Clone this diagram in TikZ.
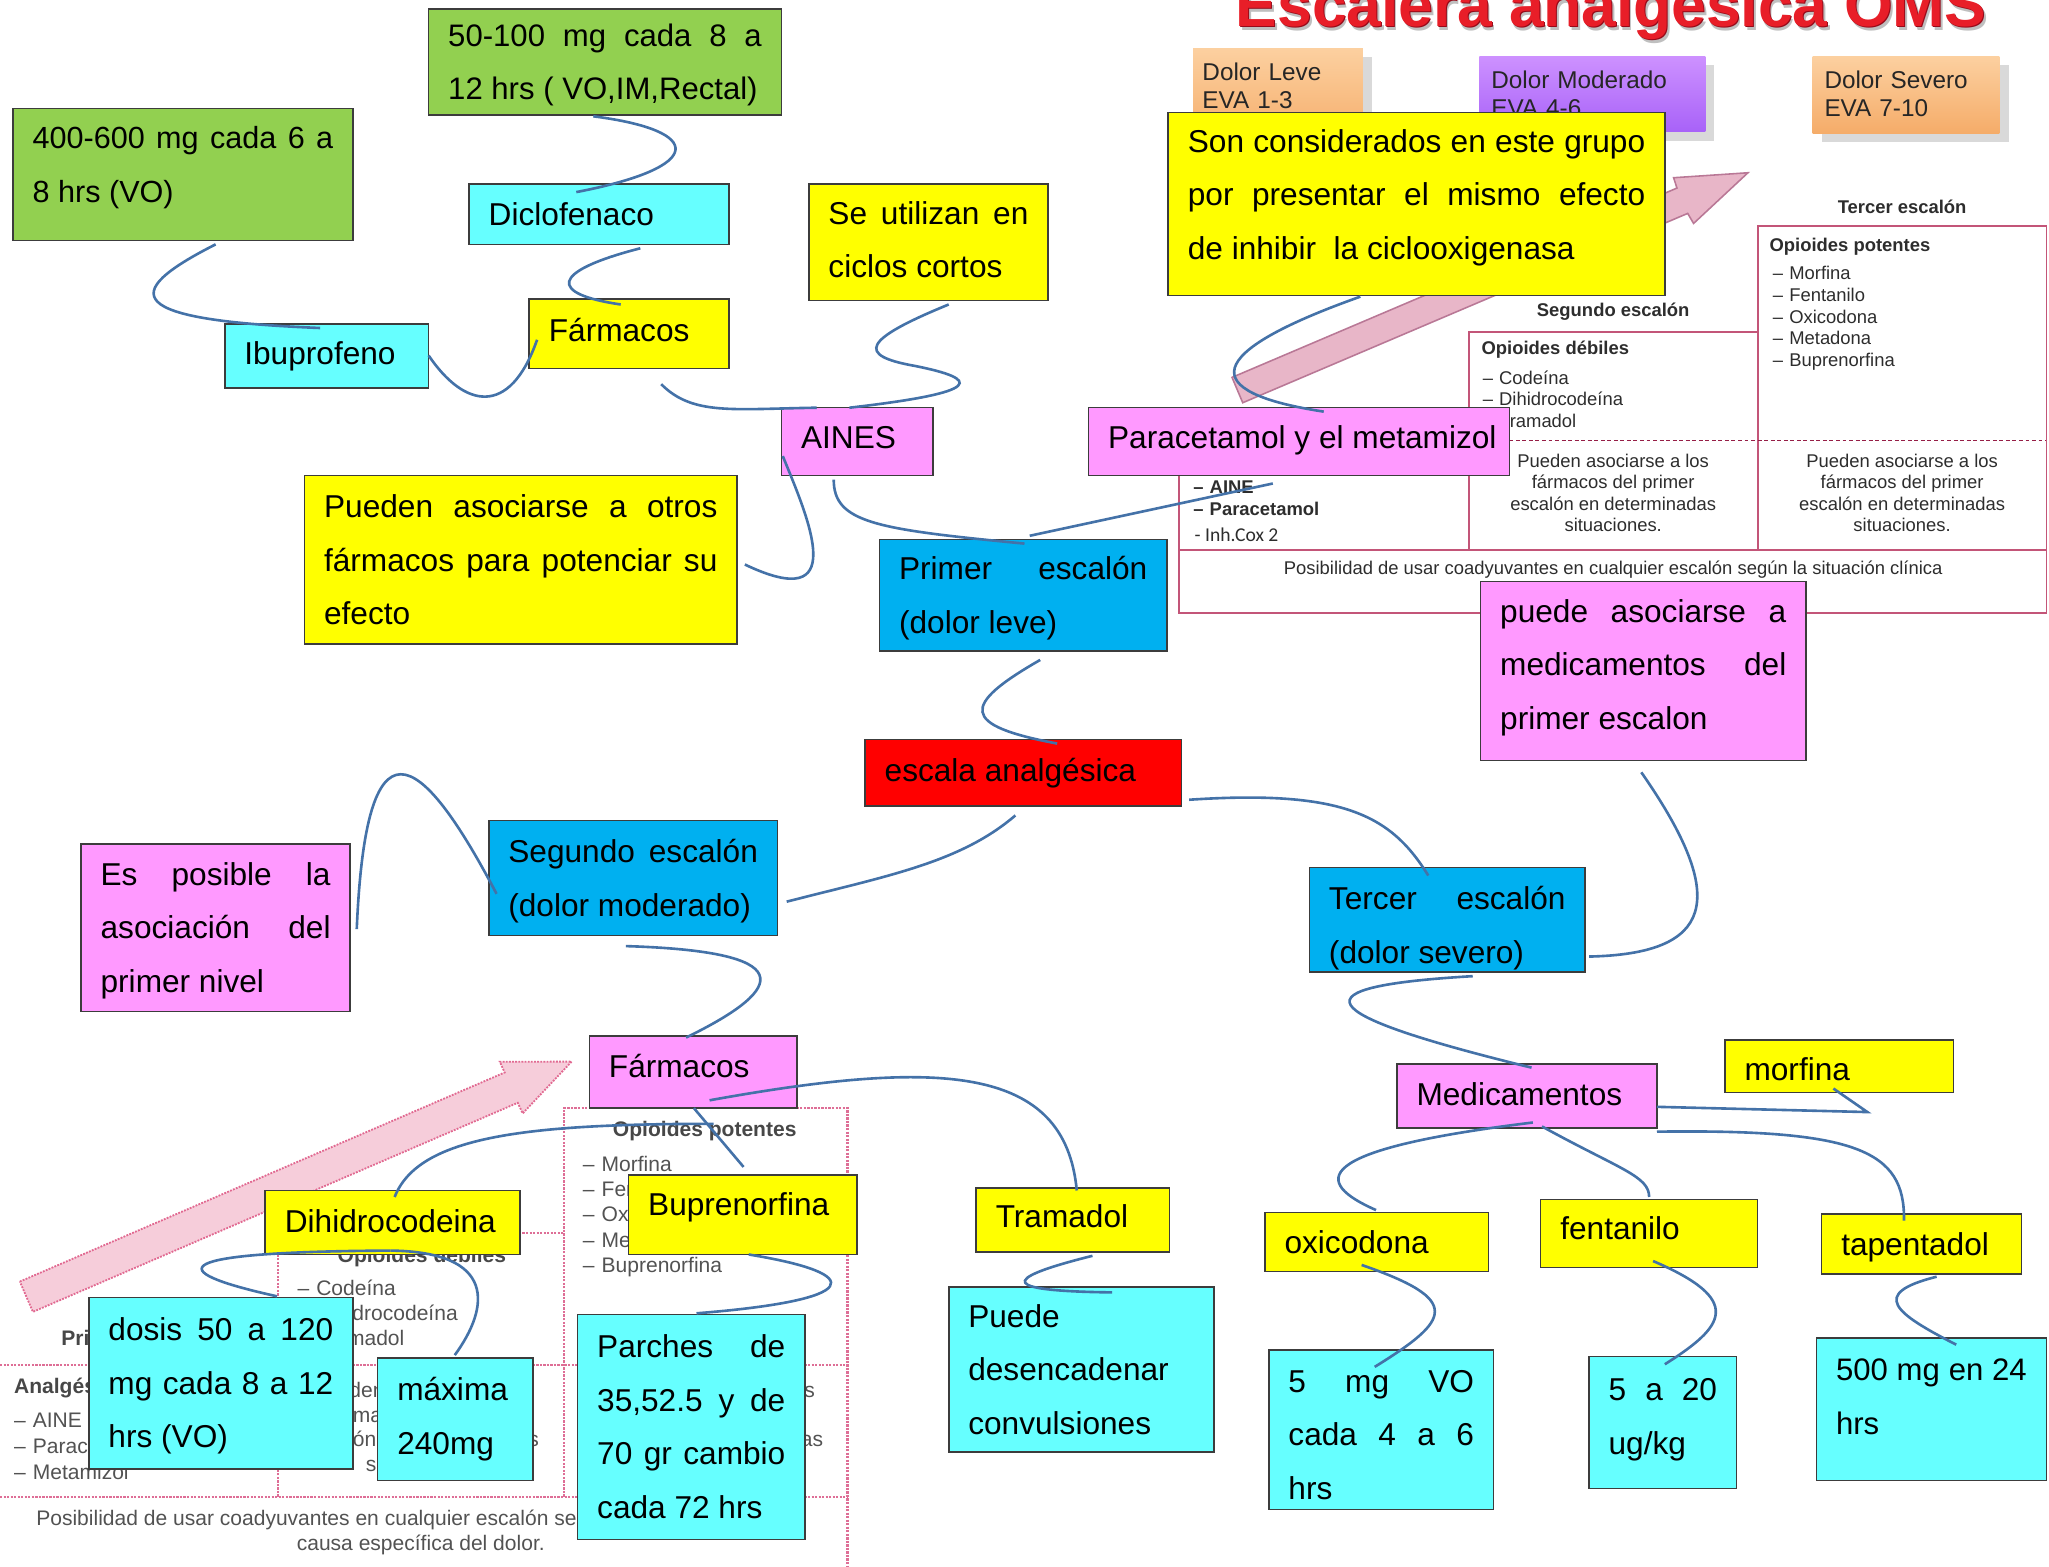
\documentclass[tikz,border=0pt]{standalone}
\usepackage{fontspec}
\setmainfont{Liberation Sans}
\newfontfamily\carlito{Carlito}
\usetikzlibrary{shadows}
\hyphenpenalty=10000 \exhyphenpenalty=10000 \tolerance=10000 \hbadness=10000 \hfuzz=30pt
\definecolor{cgreen}{RGB}{146,208,80}
\definecolor{ccyan}{RGB}{102,255,255}
\definecolor{cyel}{RGB}{255,255,0}
\definecolor{cpink}{RGB}{255,153,255}
\definecolor{cblue}{RGB}{0,176,240}
\definecolor{cred}{RGB}{255,0,0}
\definecolor{cbord}{RGB}{60,60,60}
\definecolor{conncol}{RGB}{68,114,168}
\definecolor{tabline}{RGB}{195,85,120}
\definecolor{tabdash}{RGB}{150,30,70}
\definecolor{tabtxt}{RGB}{45,45,45}
\definecolor{btabline}{RGB}{222,110,150}
\definecolor{arrfill}{RGB}{232,182,200}
\definecolor{arrdraw}{RGB}{185,120,150}
\definecolor{barrfill}{RGB}{246,205,218}
\definecolor{barrdraw}{RGB}{225,105,145}
\definecolor{titred}{RGB}{232,30,40}
\definecolor{titdark}{RGB}{150,10,25}
\definecolor{orA}{RGB}{252,208,160}
\definecolor{orB}{RGB}{245,172,105}
\definecolor{puA}{RGB}{205,145,255}
\definecolor{puB}{RGB}{168,98,248}
\newcommand\bxfont{\fontsize{24.2}{41}\selectfont}
\newcommand\mybox[8][0]{%
  \pgfmathsetmacro\bxw{#5-#3}%
  \pgfmathsetmacro\bxt{#5-#3-30}%
  \pgfmathsetmacro\bxh{#6-#4}%
  \pgfmathsetmacro\bxa{22+max(0,-2*(#1))}%
  \pgfmathsetmacro\bxb{5+max(0,2*(#1))}%
  \node[bx,#2,minimum width=\bxw pt,text width=\bxt pt,minimum height=\bxh pt] (#7) at (#3,#4)
    {\rule{0pt}{\bxa pt}#8\rule[-\bxb pt]{0pt}{\bxb pt}};%
}
\begin{document}
\begin{tikzpicture}[x=1pt,y=-1pt,
  bx/.style={rectangle,draw=cbord,line width=1.2pt,anchor=north west,font=\bxfont,
    align=justify,inner xsep=15pt,inner ysep=0pt,outer sep=0pt},
  cn/.style={draw=conncol,line width=2pt},
  tabhead/.style={inner sep=0pt,font=\fontsize{14.1}{16.6}\selectfont\bfseries,text=tabtxt},
  tabtext/.style={inner sep=0pt,font=\fontsize{14.1}{16.6}\selectfont,text=tabtxt},
  bhead/.style={inner sep=0pt,font=\fontsize{16.1}{19.4}\selectfont\bfseries,text=black!72},
  btext/.style={inner sep=0pt,font=\fontsize{16.1}{19.4}\selectfont,text=black!68},
  dolortxt/.style={anchor=base west,inner sep=0pt,align=left,text width=170pt,
    font=\fontsize{18.6}{21.5}\selectfont,text=black!85},
  titlefont/.style={anchor=base west,inner sep=0pt,font=\fontsize{47.6}{50}\selectfont\bfseries}]
\useasboundingbox (0,0) rectangle (1568,1199);
\clip (0,0) rectangle (1568,1199);

% ================= top-right background: WHO ladder =================
\node[titlefont,text=black!25] (titsh) at (947.6,23) {Escalera analgésica OMS};
\node[titlefont,text=titdark] (titdk) at (946.4,21.3) {Escalera analgésica OMS};
\node[titlefont,text=titred] (title) at (945.6,20) {Escalera analgésica OMS};

\path[top color=orA,bottom color=orB,drop shadow={shadow xshift=7pt,shadow yshift=-7pt,opacity=0.3}]
  (913,37) rectangle (1043,110);
\node[dolortxt] (dleve) at (920,61.5) {Dolor Leve\\EVA 1-3};
\path[top color=puA,bottom color=puB,drop shadow={shadow xshift=7pt,shadow yshift=-7pt,opacity=0.3}]
  (1132,43) rectangle (1305,101);
\node[dolortxt] (dmod) at (1141,68) {Dolor Moderado\\EVA 4-6};
\path[top color=orA,bottom color=orB,drop shadow={shadow xshift=7pt,shadow yshift=-7pt,opacity=0.3}]
  (1387,43) rectangle (1530,102);
\node[dolortxt] (dsev) at (1396,68) {Dolor Severo\\EVA 7-10};

% big arrow (top)
\draw[fill=arrfill,draw=arrdraw,line width=1.2pt,line join=miter]
  (942.8,288.8) -- (1283.3,143.9) -- (1280.7,136) -- (1337.6,132.2) -- (1296,171)
  -- (1291.5,163.3) -- (951.0,308.2) -- cycle;

% table lines
\draw[tabline,line width=1.4pt] (1345,421) -- (1345,173) -- (1566,173) -- (1566,469) -- (902,469) -- (902,363);
\draw[tabline,line width=1.4pt] (1124,421) -- (1124,254) -- (1345,254);
\draw[tabline,line width=1.8pt] (902,421) -- (1566,421);
\draw[tabdash,line width=1.3pt,densely dashed] (1155,337) -- (1566,337);

\node[tabhead] (t3h) at (1455.6,158.6) {Tercer escalón};
\node[tabhead] (t2h) at (1234.5,238.5) {Segundo escalón};
\node[tabhead,anchor=west] (opp) at (1354,188.8) {Opioides potentes};
\node[tabtext,anchor=base west,text width=150pt,align=left] (oppl) at (1356.5,214.2)
  {– Morfina\\– Fentanilo\\– Oxicodona\\– Metadona\\– Buprenorfina};
\node[tabhead,anchor=west] (opd) at (1133.6,267.8) {Opioides débiles};
\node[tabtext,anchor=base west,text width=150pt,align=left] (opdl) at (1134.5,294)
  {– Codeína\\– Dihidrocodeína\\– Tramadol};
\node[tabtext,align=center,font=\fontsize{14.1}{16.4}\selectfont] (pa2) at (1234.5,377.1)
  {Pueden asociarse a los\\fármacos del primer\\escalón en determinadas\\situaciones.};
\node[tabtext,align=center,font=\fontsize{14.1}{16.4}\selectfont] (pa3) at (1455.6,377.1)
  {Pueden asociarse a los\\fármacos del primer\\escalón en determinadas\\situaciones.};
\node[tabtext,anchor=base west,text width=150pt,align=left,font=\fontsize{14.1}{17.3}\selectfont\bfseries] (p1l) at (913,377.4)
  {– AINE\\– Paracetamol};
\node[inner sep=0pt,anchor=base west,font=\carlito\fontsize{15}{17}\selectfont,text=tabtxt] (inh) at (914,414.5) {- Inh.Cox 2};
\node[tabtext] (posib) at (1234.5,436.2)
  {Posibilidad de usar coadyuvantes en cualquier escalón según la situación clínica};

% ================= bottom-left background: WHO ladder =================
\draw[fill=barrfill,draw=barrdraw,line width=1.4pt,densely dotted]
  (15.2,980.7) -- (386.2,820.7) -- (382.5,812.5) -- (437.4,812.4) -- (400,852)
  -- (396.2,843.9) -- (25.2,1003.9) -- cycle;
\draw[btabline,line width=1.7pt,densely dotted] (431.8,1145.3) -- (431.8,848) -- (648.5,848) -- (648.5,1199);
\draw[btabline,line width=1.7pt,densely dotted] (213,1145.3) -- (213,943.3) -- (431.8,943.3);
\draw[btabline,line width=1.7pt,densely dotted] (0,1044.5) -- (648.5,1044.5);
\draw[btabline,line width=1.7pt,densely dotted] (0,1145.3) -- (648.5,1145.3);

\node[bhead] (bop) at (539.3,865.2) {Opioides potentes};
\node[btext,anchor=base west,text width=200pt,align=left] (bopl) at (445.9,896.3)
  {– Morfina\\– Fentanilo\\– Oxicodona\\– Metadona\\– Buprenorfina};
\node[bhead] (bod) at (322.8,961.6) {Opioides débiles};
\node[btext,anchor=base west,text width=200pt,align=left,font=\fontsize{16.1}{19.1}\selectfont] (bodl) at (227.5,991.6)
  {– Codeína\\– Dihidrocodeína\\– Tramadol};
\node[bhead,anchor=west] (bpri) at (46.7,1024) {Primer escalón};
\node[bhead,anchor=west] (bana) at (10.6,1062.4) {Analgésicos no opioides};
\node[btext,anchor=base west,text width=200pt,align=left,font=\fontsize{16.1}{19.75}\selectfont] (banl) at (10.6,1092.4)
  {– AINE\\– Paracetamol\\– Metamizol};
\node[btext,align=center,font=\fontsize{16.1}{18.9}\selectfont] (bpa2) at (322.4,1092)
  {Pueden asociarse a los\\fármacos del primer\\escalón en determinadas\\situaciones.};
\node[btext,align=center,font=\fontsize{16.1}{18.9}\selectfont] (bpa3) at (540,1092)
  {Pueden asociarse a los\\fármacos del primer\\escalón en determinadas\\situaciones.};
\node[btext,anchor=west] (bpos) at (27.6,1163.2) {Posibilidad de usar coadyuvantes en cualquier escalón según la};
\node[btext] (bcau) at (322,1182.3) {causa específica del dolor.};

% ================= concept-map boxes =================
\mybox{fill=cgreen,font=\fontsize{23.8}{41}\selectfont}{328}{7}{598}{88}{g2}{50-100 mg cada 8 a\linebreak 12 hrs ( VO,IM,Rectal)}
\mybox[7.5]{fill=cgreen,font=\fontsize{23.4}{41}\selectfont}{10}{83}{270}{184}{g1}{400-600 mg cada 6 a\linebreak 8 hrs (VO)}
\mybox{fill=ccyan}{359}{141}{558}{187}{dic}{\mbox{Diclofenaco}}
\mybox[2]{fill=cyel}{619}{141}{802}{230}{util}{Se utilizan en\linebreak ciclos cortos}
\mybox[3]{fill=cyel}{405}{229}{558}{282}{far1}{\mbox{Fármacos}}
\mybox[2]{fill=ccyan}{172}{248}{328}{297}{ibu}{\mbox{Ibuprofeno}}
\mybox[3]{fill=cpink}{598}{312}{714}{364}{aines}{\mbox{AINES}}
\mybox[3]{fill=cpink}{833}{312}{1155}{364}{para}{\mbox{Paracetamol y el metamizol}}
\mybox{fill=cyel}{233}{364}{564}{493}{pued}{Pueden asociarse a otros\linebreak fármacos para potenciar su\linebreak efecto}
\mybox{fill=cblue}{673}{413}{893}{498}{prim}{Primer escalón\linebreak (dolor leve)}
\mybox[7]{fill=cyel}{894}{86}{1274}{226}{son}{Son considerados en este grupo\linebreak por presentar el mismo efecto\linebreak de inhibir\ \ la ciclooxigenasa}
\mybox[5]{fill=cpink}{1133}{445}{1382}{582}{asoc}{puede asociarse a\linebreak medicamentos del\linebreak primer escalon}
\mybox[2]{fill=cred}{662}{566}{904}{617}{esc}{\mbox{escala analgésica}}
\mybox{fill=cblue}{374}{628}{595}{716}{seg}{Segundo escalón\linebreak (dolor moderado)}
\mybox{fill=cpink}{62}{646}{268}{774}{posi}{Es posible la\linebreak asociación del\linebreak primer nivel}
\mybox[-4]{fill=cblue}{1002}{664}{1213}{744}{terc}{Tercer escalón\linebreak (dolor severo)}
\mybox[4.5]{fill=cpink}{451}{793}{610}{848}{far2}{\mbox{Fármacos}}
\mybox[1]{fill=cpink}{1069}{814}{1268}{863}{med}{\mbox{Medicamentos}}
\mybox[-2]{fill=cyel}{1320}{796}{1495}{836}{morf}{\mbox{morfina}}
\mybox[1]{fill=cyel}{203}{911}{398}{960}{dihi}{\mbox{Dihidrocodeina}}
\mybox[8]{fill=cyel}{481}{899}{656}{960}{bup}{\mbox{Buprenorfina}}
\mybox[2.5]{fill=cyel}{747}{909}{895}{958}{tram}{\mbox{Tramadol}}
\mybox{fill=cyel}{968}{928}{1139}{973}{oxi}{\mbox{oxicodona}}
\mybox[4]{fill=cyel}{1179}{918}{1345}{970}{fen}{\mbox{fentanilo}}
\mybox{fill=cyel}{1394}{929}{1547}{975}{tap}{\mbox{tapentadol}}
\mybox{fill=ccyan}{68}{993}{270}{1124}{dos}{dosis 50 a 120\linebreak mg cada 8 a 12\linebreak hrs (VO)}
\mybox[2]{fill=ccyan}{289}{1039}{408}{1133}{maxi}{máxima\\240mg}
\mybox{fill=ccyan}{442}{1006}{616}{1178}{parch}{Parches de\linebreak 35,52.5 y de\linebreak 70 gr cambio\linebreak cada 72 hrs}
\mybox{fill=ccyan}{726}{985}{929}{1111}{conv}{Puede\\desencadenar\\convulsiones}
\mybox[-4]{fill=ccyan}{971}{1033}{1143}{1155}{vo}{5 mg VO\linebreak cada 4 a 6\linebreak hrs}
\mybox[4.5]{fill=ccyan}{1216}{1038}{1329}{1139}{ugkg}{5 a 20\linebreak ug/kg}
\mybox[10]{fill=ccyan,font=\fontsize{23.8}{41}\selectfont}{1390}{1024}{1566}{1133}{dosq}{500 mg en 24\linebreak hrs}

% ================= connectors =================
\draw[cn] ([shift={(155,104)}]g1.north west) .. controls (90,225) and (95,245) .. ([shift={(73,3)}]ibu.north west);
\draw[cn] ([shift={(156,24)}]ibu.north west) .. controls (355,312) and (390,320) .. ([shift={(6,31)}]far1.north west);
\draw[cn] ([shift={(82,6)}]dic.north west) .. controls (540,128) and (540,100) .. ([shift={(126,82)}]g2.north west);
\draw[cn] ([shift={(131,49)}]dic.north west) .. controls (420,208) and (420,225) .. ([shift={(70,4)}]far1.north west);
\draw[cn] ([shift={(101,65)}]far1.north west) .. controls (530,318) and (560,313) .. ([shift={(27,0)}]aines.north west);
\draw[cn] ([shift={(107,92)}]util.north west) .. controls (660,260) and (655,272) .. (700,280)
  .. controls (750,290) and (755,300) .. ([shift={(52,0)}]aines.north west);
\draw[cn] ([shift={(1,37)}]aines.north west) .. controls (620,400) and (650,470) .. ([shift={(337,68)}]pued.north west);
\draw[cn] ([shift={(40,55)}]aines.north west) .. controls (638,400) and (670,405) .. ([shift={(111,3)}]prim.north west);
\draw[cn] ([shift={(141,58)}]para.north west) -- ([shift={(115,-3)}]prim.north west);
\draw[cn] ([shift={(147,141)}]son.north west) .. controls (920,270) and (915,300) .. ([shift={(180,3)}]para.north west);
\draw[cn] ([shift={(123,92)}]prim.north west) .. controls (735,540) and (735,555) .. ([shift={(147,3)}]esc.north west);
\draw[cn] ([shift={(115,58)}]esc.north west) .. controls (735,660) and (680,670) .. ([shift={(228,62)}]seg.north west);
\draw[cn] ([shift={(211,65)}]posi.north west) .. controls (280,545) and (320,570) .. ([shift={(6,56)}]seg.north west);
\draw[cn] ([shift={(105,96)}]seg.north west) .. controls (610,728) and (605,755) .. ([shift={(74,1)}]far2.north west);
\draw[cn] ([shift={(248,46)}]esc.north west) .. controls (1030,604) and (1065,625) .. ([shift={(91,6)}]terc.north west);
\draw[cn] ([shift={(214,68)}]terc.north west) .. controls (1310,730) and (1325,690) .. ([shift={(123,146)}]asoc.north west);
\draw[cn] ([shift={(125,83)}]terc.north west) .. controls (990,755) and (1000,775) .. ([shift={(103,3)}]med.north west);
\draw[cn] ([shift={(199,33)}]med.north west) -- (1429,851) -- ([shift={(83,37)}]morf.north west);
\draw[cn] ([shift={(199,52)}]med.north west) .. controls (1420,864) and (1458,880) .. ([shift={(63,5)}]tap.north west);
\draw[cn] ([shift={(104,45)}]med.north west) .. controls (1000,880) and (1005,905) .. ([shift={(85,-2)}]oxi.north west);
\draw[cn] ([shift={(111,48)}]med.north west) .. controls (1240,895) and (1262,900) .. ([shift={(83,-2)}]fen.north west);
\draw[cn] ([shift={(74,40)}]oxi.north west) .. controls (1120,995) and (1110,1010) .. ([shift={(81,13)}]vo.north west);
\draw[cn] ([shift={(86,47)}]fen.north west) .. controls (1335,995) and (1320,1015) .. ([shift={(58,6)}]ugkg.north west);
\draw[cn] ([shift={(88,48)}]tap.north west) .. controls (1430,990) and (1450,1005) .. ([shift={(107,5)}]dosq.north west);
\draw[cn] ([shift={(92,49)}]far2.north west) .. controls (720,810) and (815,815) .. ([shift={(77,2)}]tram.north west);
\draw[cn] ([shift={(80,55)}]far2.north west) -- ([shift={(88,-6)}]bup.north west);
\draw[cn] ([shift={(95,67)}]far2.north west) .. controls (400,860) and (320,870) .. ([shift={(99,5)}]dihi.north west);
\draw[cn] ([shift={(96,46)}]dihi.north west) .. controls (110,958) and (135,975) .. ([shift={(144,-1)}]dos.north west);
\draw[cn] ([shift={(96,46)}]dihi.north west) .. controls (380,958) and (375,1000) .. ([shift={(59,-2)}]maxi.north west);
\draw[cn] ([shift={(92,61)}]bup.north west) .. controls (665,975) and (660,995) .. ([shift={(91,-1)}]parch.north west);
\draw[cn] ([shift={(89,52)}]tram.north west) .. controls (760,980) and (770,988) .. ([shift={(125,4)}]conv.north west);
\end{tikzpicture}
\end{document}
